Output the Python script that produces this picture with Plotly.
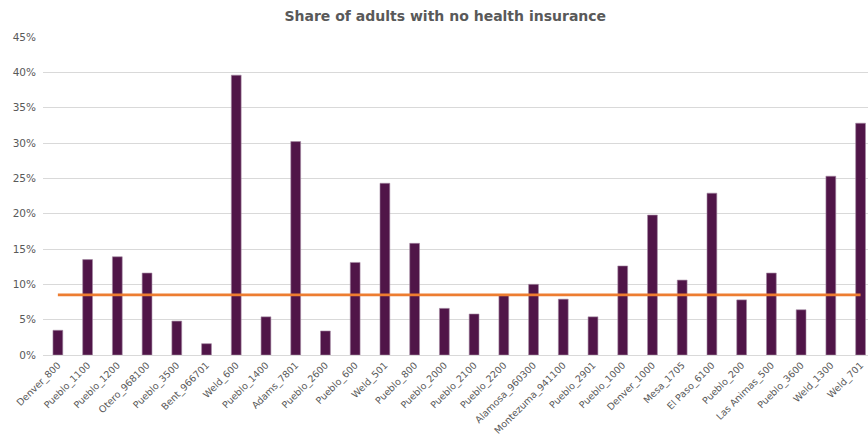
import plotly.graph_objects as go

categories = ["Denver_800", "Pueblo_1100", "Pueblo_1200", "Otero_968100", "Pueblo_3500",
              "Bent_966701", "Weld_600", "Pueblo_1400", "Adams_7801", "Pueblo_2600",
              "Pueblo_600", "Weld_501", "Pueblo_800", "Pueblo_2000", "Pueblo_2100",
              "Pueblo_2200", "Alamosa_960300", "Montezuma_941100", "Pueblo_2901", "Pueblo_1000",
              "Denver_1000", "Mesa_1705", "El Paso_6100", "Pueblo_200", "Las Animas_500",
              "Pueblo_3600", "Weld_1300", "Weld_701"]
uninsured = [0.035, 0.135, 0.139, 0.116, 0.048, 0.016, 0.396, 0.054, 0.302, 0.034,
             0.131, 0.243, 0.158, 0.066, 0.058, 0.084, 0.100, 0.079, 0.054, 0.126,
             0.198, 0.106, 0.229, 0.078, 0.116, 0.064, 0.253, 0.328]
average = [0.085] * len(categories)

fig = go.Figure()
fig.add_trace(go.Bar(x=categories, y=uninsured, marker=dict(color="#501548", line=dict(color="#a58aa2", width=0.6)),
                     width=0.33, showlegend=False))
fig.add_trace(go.Scatter(x=categories, y=average, mode="lines", line=dict(color="#ED7D31", width=2.8),
                         showlegend=False))

fig.update_layout(
    width=868, height=437,
    margin=dict(l=43, r=0, t=37, b=82),
    paper_bgcolor="white", plot_bgcolor="white",
    title=dict(text="<b>Share of adults with no health insurance</b>", x=0.513, xanchor="center",
               y=0.963, yanchor="middle", font=dict(family="DejaVu Sans", size=14, color="#595959")),
    font=dict(family="DejaVu Sans", color="#595959"),
    xaxis=dict(type="category", range=[-0.5, 27.25], tickangle=-45, tickfont=dict(size=9.5, color="#595959"),
               showgrid=False, showline=True, linecolor="#d9d9d9", linewidth=1, ticks="",
               automargin=False),
    yaxis=dict(range=[0, 0.45], dtick=0.05, tickformat=".0%", tickfont=dict(size=10.5, color="#595959"),
               showgrid=True, gridcolor="#d9d9d9", gridwidth=1, zeroline=False, ticks="",
               ticklabelstandoff=6, automargin=False),
    bargap=0.67,
)

fig.write_html("out.html")
